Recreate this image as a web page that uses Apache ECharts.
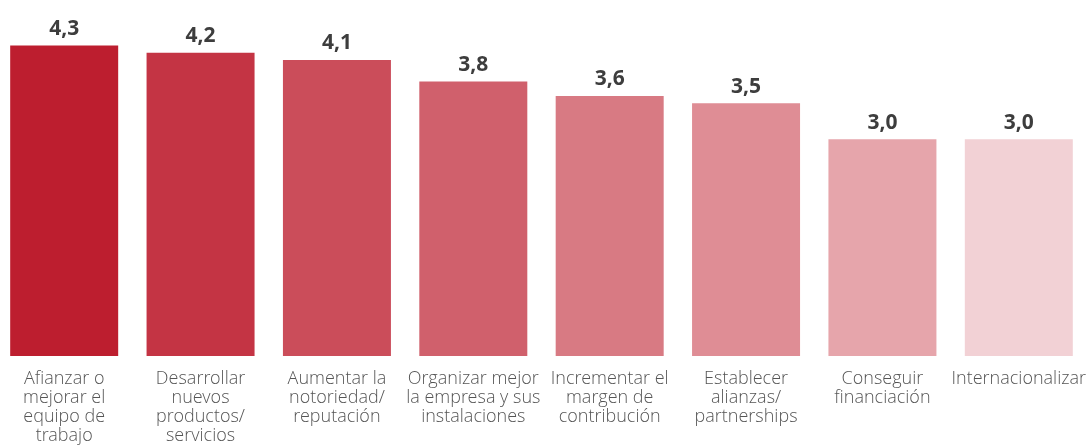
<!DOCTYPE html>
<html>
<head>
<meta charset="utf-8">
<script src="https://cdn.jsdelivr.net/npm/echarts@6/dist/echarts.min.js"></script>
<style>
  html, body { margin: 0; padding: 0; background: #ffffff; overflow: hidden; }
  #chart { width: 1093px; height: 446px; margin-left: -4px; }
</style>
</head>
<body>
<div id="chart"></div>
<script>
// Objetivos prioritarios (valoración media)
const categories = [
  'Afianzar o\nmejorar el\nequipo de\ntrabajo',
  'Desarrollar\nnuevos\nproductos/\nservicios',
  'Aumentar la\nnotoriedad/\nreputación',
  'Organizar mejor\nla empresa y sus\ninstalaciones',
  'Incrementar el\nmargen de\ncontribución',
  'Establecer\nalianzas/\npartnerships',
  'Conseguir\nfinanciación',
  'Internacionalizar'
];
const values = [4.3, 4.2, 4.1, 3.8, 3.6, 3.5, 3.0, 3.0];
const barColors = ['#BD1E2F', '#C43444', '#CB4D5A', '#D0606C', '#D87A83', '#DF8D95', '#E6A5AB', '#F2D1D5'];

const chart = echarts.init(document.getElementById('chart'), null, { renderer: 'canvas' });

chart.setOption({
  animation: false,
  grid: { left: 0, width: 1092, top: 31, bottom: 88, containLabel: false },
  xAxis: {
    type: 'category',
    data: categories,
    axisLine: { show: false },
    axisTick: { show: false },
    axisLabel: {
      interval: 0,
      margin: 14,
      fontFamily: "'Open Sans Light', 'Open Sans'",
      fontWeight: 300,
      fontSize: 18,
      lineHeight: 19,
      color: '#555555',
      align: 'center'
    }
  },
  yAxis: {
    type: 'value',
    min: 0,
    max: 4.5,
    show: false,
    splitLine: { show: false }
  },
  series: [{
    type: 'bar',
    barWidth: 108,
    data: values.map((v, i) => ({
      value: v,
      itemStyle: { color: barColors[i] }
    })),
    label: {
      show: true,
      position: 'top',
      distance: 6,
      fontFamily: 'Open Sans',
      fontWeight: 'bold',
      fontSize: 21,
      color: '#3d3d3d',
      formatter: p => p.value.toFixed(1).replace('.', ',')
    }
  }]
});
</script>
</body>
</html>
